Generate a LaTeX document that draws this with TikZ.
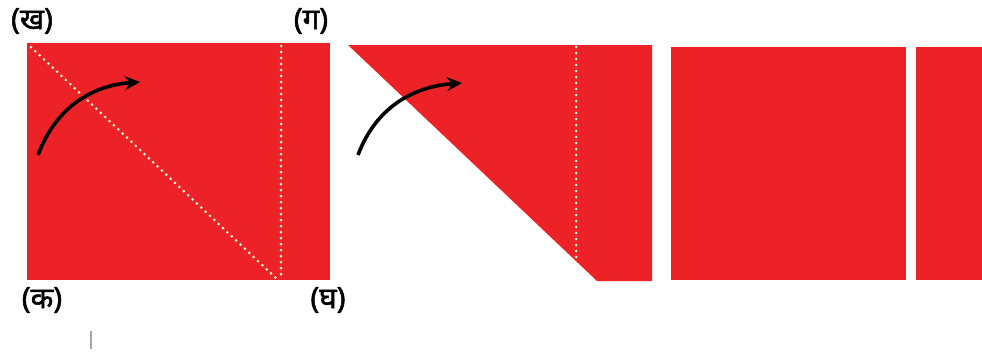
\documentclass[tikz,border=0pt]{standalone}
\usepackage{fontspec}
\newfontfamily\deva[Script=Devanagari,FakeBold=1.8]{Noto Sans}
\usetikzlibrary{arrows.meta}
\definecolor{paper}{HTML}{EC2227}
\definecolor{dotc}{HTML}{FFF4D6}
\tikzset{
  sheet/.style={fill=paper,draw=none},
  foldline/.style={draw=dotc,line width=3pt,line cap=round,dash pattern=on 0pt off 6pt},
  foldarrow/.style={draw=black,line width=3.6pt,-{Stealth[length=15pt,width=14pt]}},
  lab/.style={font=\deva\fontsize{29.5}{32}\selectfont,inner sep=0pt}
}
\begin{document}
\begin{tikzpicture}[x=1pt,y=-1pt]
\useasboundingbox (0,0) rectangle (982,362);
% left sheet
\fill[sheet] (27,43) rectangle (330,280);
\coordinate (kh) at (31,47);
\coordinate (gh) at (276,278);
\coordinate (vt) at (281,46);
\coordinate (vb) at (281,279);
\draw[foldline] (kh) -- (gh);
\draw[foldline] (vt) -- (vb);
\coordinate (a1s) at (38,155);
\coordinate (a1e) at (140,82);
\draw[foldarrow] (a1s) .. controls (58,102) and (98,85) .. (a1e);
\node[lab] (lkh) at (32,21) {(ख)};
\node[lab] (lga) at (311,21) {(ग)};
\node[lab] (lka) at (42,300) {(क)};
\node[lab] (lgh) at (328,300) {(घ)};
% middle sheet
\fill[sheet] (348,45) -- (652,45) -- (652,281) -- (597,281) -- cycle;
\coordinate (mvt) at (576,47);
\coordinate (mvb) at (576,262);
\draw[foldline] (mvt) -- (mvb);
\coordinate (a2s) at (358,155);
\coordinate (a2e) at (462,83);
\draw[foldarrow] (a2s) .. controls (378,102) and (420,86) .. (a2e);
% right pieces
\fill[sheet] (671,47) rectangle (906,280);
\fill[sheet] (916,47) rectangle (982,280);
% small mark
\draw[gray!70,line width=1.5pt] (91,331) -- (91,349);
\end{tikzpicture}
\end{document}
